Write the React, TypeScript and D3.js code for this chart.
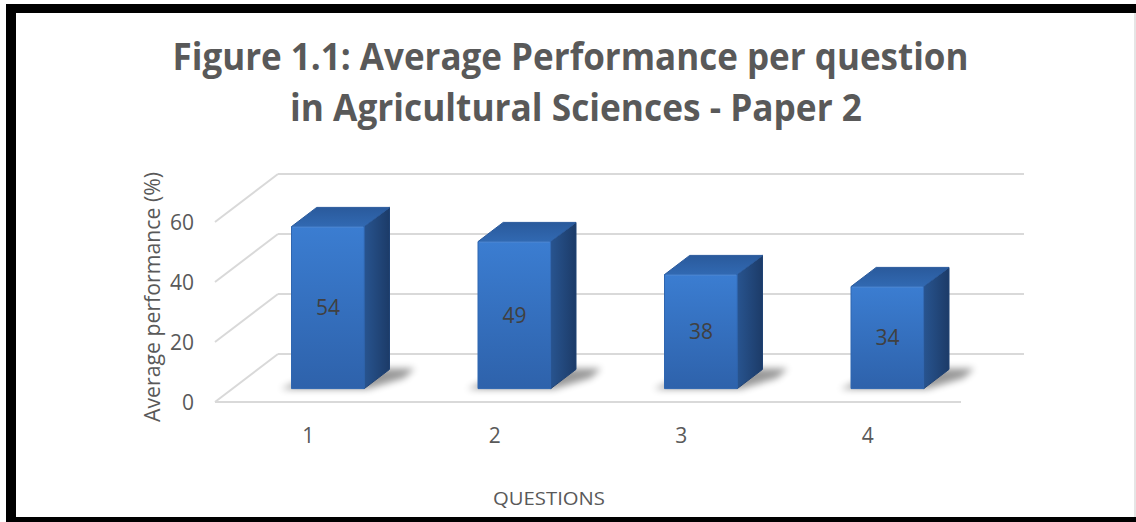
import React from "react";
import * as d3 from "d3";

const categories = ["1", "2", "3", "4"];
const values = [54, 49, 38, 34];
const yTicks = [0, 20, 40, 60];
const titleLines = [
  "Figure 1.1: Average Performance per question",
  "in Agricultural Sciences - Paper 2",
];
const yAxisTitle = "Average performance (%)";
const xAxisTitle = "QUESTIONS";

const W = 1136;
const H = 522;
const DX = 63;
const DY = 48;
const D0 = 0.28;
const D1 = 0.68;

export default function App() {
  const x = d3
    .scaleBand<string>()
    .domain(categories)
    .range([215, 961])
    .paddingInner(0.61)
    .paddingOuter(0.305);
  const y = d3.scaleLinear().domain([0, 60]).range([402, 222]);
  const bw = x.bandwidth();
  const P = (xf: number, v: number, d: number): [number, number] => [
    xf + DX * d,
    y(v) - DY * d,
  ];
  const poly = (pts: [number, number][]) =>
    pts.map((p) => p[0].toFixed(1) + "," + p[1].toFixed(1)).join(" ");
  const font = "'Open Sans', 'Lato', sans-serif";

  const floorRight = x.range()[1];
  const floorLeft = x.range()[0];

  return (
    <svg
      width={W}
      height={H}
      style={{ position: "absolute", left: 0, top: 0, background: "#fff" }}
    >
      <defs>
        <linearGradient id="gFront" x1="0" y1="0" x2="0" y2="1">
          <stop offset="0" stopColor="#3b7dd1" />
          <stop offset="1" stopColor="#2e62ab" />
        </linearGradient>
        <linearGradient id="gSide" x1="0" y1="0" x2="1" y2="0">
          <stop offset="0" stopColor="#28548f" />
          <stop offset="1" stopColor="#1c3b68" />
        </linearGradient>
        <linearGradient id="gTop" x1="0" y1="1" x2="0" y2="0">
          <stop offset="0" stopColor="#3169b2" />
          <stop offset="1" stopColor="#2a5a9c" />
        </linearGradient>
        <filter id="blur" x="-50%" y="-50%" width="200%" height="200%">
          <feGaussianBlur stdDeviation="3.5" />
        </filter>
      </defs>
      <rect x={0} y={0} width={W} height={H} fill="#fff" />

      {/* frame */}
      <rect x={6} y={4} width={1130} height={9} fill="#000" />
      <rect x={6} y={4} width={10} height={518} fill="#000" />
      <rect x={6} y={517} width={1130} height={5} fill="#000" />
      <line x1={1135} y1={13} x2={1135} y2={517} stroke="#dcdcdc" strokeWidth={1.5} />

      {/* title */}
      {titleLines.map((t, i) => (
        <text
          key={t}
          x={i === 0 ? 570.5 : 576}
          y={i === 0 ? 70 : 121}
          textAnchor="middle"
          fontFamily={font}
          fontWeight={700}
          fontSize={38}
          fill="#595959"
          textLength={i === 0 ? 796 : 572}
          lengthAdjust="spacingAndGlyphs"
        >
          {t}
        </text>
      ))}

      {/* gridlines */}
      {yTicks.map((v) => {
        const a = P(floorLeft, v, 0);
        const b = P(floorLeft, v, 1);
        const c = P(floorRight, v, 1);
        return (
          <g key={v}>
            <line x1={a[0]} y1={a[1]} x2={b[0]} y2={b[1]} stroke="#d9d9d9" strokeWidth={2} />
            <line x1={b[0]} y1={b[1]} x2={c[0]} y2={c[1]} stroke="#d9d9d9" strokeWidth={2} />
          </g>
        );
      })}
      <line
        x1={floorLeft}
        y1={y(0)}
        x2={floorRight}
        y2={y(0)}
        stroke="#d9d9d9"
        strokeWidth={2}
      />

      {/* y tick labels */}
      {yTicks.map((v) => (
        <text
          key={v}
          x={194}
          y={y(v)}
          dy="0.36em"
          textAnchor="end"
          fontFamily={font}
          fontSize={21}
          fill="#595959"
        >
          {v}
        </text>
      ))}

      {/* shadows */}
      {categories.map((c) => {
        const xl = (x(c) as number) + 2;
        const xr = xl + bw;
        return (
          <polygon
            key={"s" + c}
            points={poly([
              P(xl - 10, 0, D0 - 0.01),
              P(xr + 4, 0, D0 - 0.01),
              P(xr + 26, 0, D0 + 0.22),
              P(xr + 24, 0, D1 + 0.02),
              P(xl + 10, 0, D1 + 0.02),
            ])}
            fill="#000"
            opacity={0.4}
            filter="url(#blur)"
          />
        );
      })}

      {/* bars */}
      {categories.map((c, i) => {
        const v = values[i];
        const xl = (x(c) as number) + 2;
        const xr = xl + bw;
        const front = [P(xl, 0, D0), P(xr, 0, D0), P(xr, v, D0), P(xl, v, D0)];
        const top = [P(xl, v, D0), P(xr, v, D0), P(xr, v, D1), P(xl, v, D1)];
        const side = [P(xr, 0, D0), P(xr, v, D0), P(xr, v, D1), P(xr, 0, D1)];
        const fc = P(xl + bw / 2, v / 2, D0);
        return (
          <g key={c}>
            <polygon points={poly(side)} fill="url(#gSide)" stroke="#1f4274" strokeWidth={1} strokeLinejoin="round" />
            <polygon points={poly(top)} fill="url(#gTop)" stroke="#2a5a9c" strokeWidth={1} strokeLinejoin="round" />
            <polygon points={poly(front)} fill="url(#gFront)" stroke="#2f66b0" strokeWidth={1} strokeLinejoin="round" />
            <line
              x1={P(xl, v, D0)[0] + 1}
              y1={P(xl, v, D0)[1] + 0.5}
              x2={P(xr, v, D0)[0] - 1}
              y2={P(xr, v, D0)[1] + 0.5}
              stroke="#5b92d8"
              strokeWidth={1}
              opacity={0.7}
            />
            <text
              x={fc[0]}
              y={fc[1]}
              dy="0.36em"
              textAnchor="middle"
              fontFamily={font}
              fontSize={21}
              fill="#404040"
            >
              {v}
            </text>
          </g>
        );
      })}

      {/* category labels */}
      {categories.map((c) => (
        <text
          key={"l" + c}
          x={(x(c) as number) + bw / 2}
          y={435}
          dy="0.36em"
          textAnchor="middle"
          fontFamily={font}
          fontSize={21}
          fill="#595959"
        >
          {c}
        </text>
      ))}

      {/* axis titles */}
      <text
        transform="translate(152,297) rotate(-90)"
        dy="0.36em"
        textAnchor="middle"
        fontFamily={font}
        fontSize={21}
        fill="#595959"
        textLength={250}
        lengthAdjust="spacingAndGlyphs"
      >
        {yAxisTitle}
      </text>
      <text
        x={549}
        y={498}
        dy="0.36em"
        textAnchor="middle"
        fontFamily={font}
        fontSize={19}
        fill="#595959"
        textLength={112}
        lengthAdjust="spacingAndGlyphs"
      >
        {xAxisTitle}
      </text>
    </svg>
  );
}
